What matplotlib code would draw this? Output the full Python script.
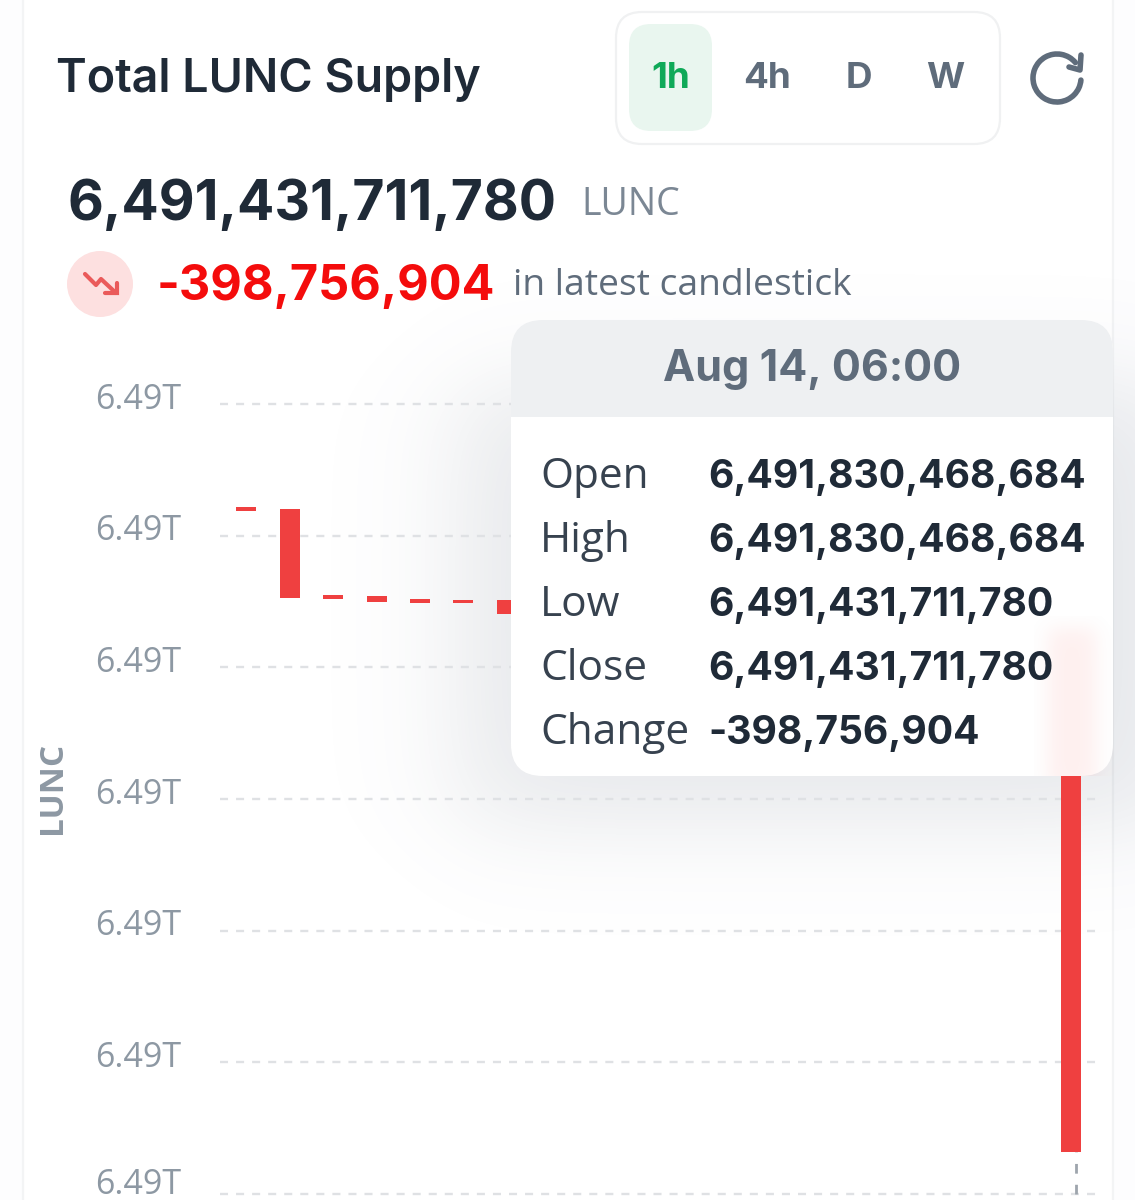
import numpy as np
import matplotlib
matplotlib.use("Agg")
import matplotlib.pyplot as plt
from matplotlib.patches import FancyBboxPatch, Circle, Arc, Rectangle
from matplotlib.ticker import FixedLocator, FixedFormatter
from matplotlib.transforms import ScaledTranslation

# --- data (values in millions of LUNC) ---
candle_slots = [0, 1, 2, 3, 4, 5, 6, 19]
candle_open = [6491922.0, 6491920.5, 6491855.2, 6491854.0, 6491852.0, 6491851.4, 6491851.4, 6491830.468684]
candle_close = [6491919.0, 6491852.9, 6491852.1, 6491849.8, 6491849.0, 6491849.0, 6491840.7, 6491431.711780]
grid_values = [6492000, 6491900, 6491800, 6491700, 6491600, 6491500, 6491400]
tick_labels = ["6.49T"] * 7
timeframes = ["1h", "4h", "D", "W"]
tooltip_rows = ["Open", "High", "Low", "Close", "Change"]
tooltip_vals = ["6,491,830,468,684", "6,491,830,468,684", "6,491,431,711,780", "6,491,431,711,780", "-398,756,904"]

W, H = 1135, 1200
FONT = "Inter"
BODY = "Open Sans"
INK = "#1f2a37"
SLATE = "#5f6c7b"
GRID = "#dfe1e4"
RED = "#ef4040"

fig = plt.figure(figsize=(W / 100, H / 100), dpi=100, facecolor="white")


def px_axes(z):
    a = fig.add_axes([0, 0, 1, 1], zorder=z)
    a.set_xlim(0, W)
    a.set_ylim(H, 0)
    a.axis("off")
    a.patch.set_alpha(0)
    return a


def rrect(a, x0, y0, x1, y1, r, **kw):
    p = FancyBboxPatch((x0 + r, y0 + r), x1 - x0 - 2 * r, y1 - y0 - 2 * r,
                       boxstyle=f"round,pad={r},rounding_size={r}", **kw)
    a.add_patch(p)
    return p


def edge(v, a, b, s):
    return 0.5 * (np.tanh((v - a) / s) - np.tanh((v - b) / s))


# ---------- card background ----------
bg = px_axes(0)
bg.add_patch(Rectangle((0, 0), W, H, fc="#fdfdfe", ec="none"))
rrect(bg, 23, -60, 1113, 1300, 34, fc="white", ec="#f3f4f5", lw=1.6)

# soft tooltip shadow, underneath the chart marks
xx, yy = np.meshgrid(np.arange(W) + .5, np.arange(H) + .5)
shadow = np.zeros((H, W, 4))
shadow[..., :3] = (0.40, 0.45, 0.52)
shadow[..., 3] = 0.16 * edge(xx, 460, 1180, 70) * edge(yy, 385, 825, 60)
bg.imshow(shadow, extent=(0, W, H, 0), zorder=3, interpolation="bilinear", aspect="auto")
bg.set_xlim(0, W)
bg.set_ylim(H, 0)

# ---------- chart ----------
# grid spacing 131.65 px per 100 M; 6491400 M sits at y = 1194 px
L, R = 220, 1097
PX_PER_M = 1.3165
BASE_Y = 1194
ax = fig.add_axes([L / W, 0, (R - L) / W, 1 - 360 / H], zorder=1)
ax.patch.set_alpha(0)
ax.set_ylim(6491400 + (BASE_Y - 1200) / PX_PER_M, 6491400 + (BASE_Y - 360) / PX_PER_M)
ax.set_xlim(-0.61, 19.60)
for s in ax.spines.values():
    s.set_visible(False)
ax.set_xticks([])
ax.yaxis.set_major_locator(FixedLocator(grid_values))
ax.yaxis.set_major_formatter(FixedFormatter(tick_labels))
ax.tick_params(axis="y", length=0, pad=28, labelsize=24.5, labelcolor="#8d98a3")
for t, v in zip(ax.get_yticklabels(), grid_values):
    t.set_family(BODY)
    t.set_verticalalignment("center")
    lift = 9 if v == grid_values[-1] else 4.5
    t.set_transform(t.get_transform() + ScaledTranslation(0, lift / 100, fig.dpi_scale_trans))
ax.yaxis.grid(True, color=GRID, lw=1.7, ls=(0, (3.4, 3.4)))
ax.set_axisbelow(True)
ax.bar(candle_slots, np.array(candle_open) - np.array(candle_close), bottom=candle_close,
       width=0.46, color=RED, lw=0, zorder=3)
ax.plot([19.12, 19.12], [6491400, candle_close[-1]], color="#9ea5ad", lw=2,
        ls=(0, (3.5, 4)), zorder=2)

# ---------- overlay: header, tooltip ----------
ui = px_axes(2)
ui.text(56, 80, "Total LUNC Supply", fontsize=33.6, fontweight="semibold", family=FONT,
        color=INK, va="center", ha="left")
rrect(ui, 616, 12, 1000, 144, 26, fc="white", ec="#f0f1f2", lw=1.6)
rrect(ui, 629, 24, 712, 131, 22, fc="#e9f6ef", ec="none")
for lab, x, c in zip(timeframes, [671, 767, 859, 945], ["#0fa958", SLATE, SLATE, SLATE]):
    ui.text(x, 79, lab, fontsize=26.5, fontweight="bold", family=FONT, color=c, ha="center", va="center")

# refresh icon
ui.add_patch(Arc((1057, 78), 48, 48, theta1=-355, theta2=-40, ec=SLATE, lw=4.0, capstyle="round"))
ui.plot([1069, 1080, 1081], [67, 70, 55], color=SLATE, lw=4.0, solid_capstyle="round", solid_joinstyle="round")

ui.text(67, 205, "6,491,431,711,780", fontsize=39.8, fontweight="bold", family=FONT, color=INK, ha="left", va="center")
ui.text(581, 205, "LUNC", fontsize=27, family=BODY, color="#7b8794", ha="left", va="center")

ui.add_patch(Circle((100, 284), 33, fc="#fde0e0", ec="none"))
ui.plot([85, 96, 101, 116], [274, 285, 279, 293], color="#ea5a5a", lw=3, solid_capstyle="round")
ui.plot([105, 117, 117], [293, 293, 283], color="#ea5a5a", lw=3, solid_capstyle="round", solid_joinstyle="miter")
ui.text(157, 287, "-398,756,904", fontsize=35, fontweight="bold", family=FONT, color="#f40c0c", ha="left", va="center")
ui.text(513, 286, "in latest candlestick", fontsize=26.8, family=BODY, color=SLATE, ha="left", va="center")

ui.text(52, 788, "LUNC", fontsize=24, fontweight="bold", family=BODY, color="#8d98a3", rotation=90, ha="center", va="center")

# tooltip body
box = rrect(ui, 511, 320, 1113, 776, 32, fc="white", ec="none", zorder=2)
head = Rectangle((511, 320), 602, 97, fc="#eef0f2", ec="none", zorder=3)
ui.add_patch(head)
head.set_clip_path(box)

# pale red glow of the candle behind the tooltip
glow = np.zeros((160, 80, 4))
glow[..., :3] = (0.97, 0.45, 0.42)
gy, gx = np.mgrid[0:160, 0:80]
glow[..., 3] = 0.11 * edge(gx + .5, 14, 62, 12) * edge(gy + .5, 12, 175, 12)
ui.imshow(glow, extent=(1034, 1114, 776, 616), zorder=3, aspect="auto")
ui.set_xlim(0, W)
ui.set_ylim(H, 0)

ui.text(812, 370, "Aug 14, 06:00", fontsize=31, fontweight="bold", family=FONT, color=SLATE, ha="center", va="center", zorder=5)
for y, lab, val in zip([474, 538, 602, 666, 730], tooltip_rows, tooltip_vals):
    ui.text(540, y + 3, lab, fontsize=30.5, family=BODY, color="#37424f", ha="left", va="center", zorder=5)
    ui.text(708, y + 3, val, fontsize=28.2, fontweight="bold", family=FONT, color=INK, ha="left", va="center", zorder=5)

fig.savefig("out.png", dpi=100)
